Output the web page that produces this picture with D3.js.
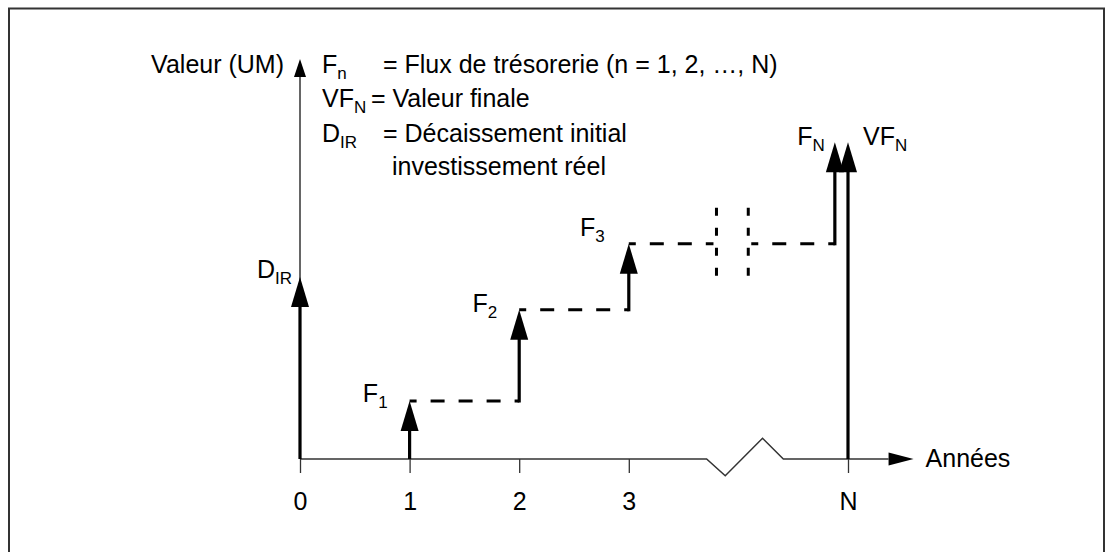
<!DOCTYPE html>
<html>
<head>
<meta charset="utf-8">
<script src="https://cdn.jsdelivr.net/npm/d3@7"></script>
<style>
  body { margin: 0; background: #fff; }
  text { font-family: 'Liberation Sans', Arial, sans-serif; fill: #000; }
</style>
</head>
<body>
<svg width="1105" height="552"></svg>
<script>
// years on the time axis (N sits after the break)
const yearLabels = ['0', '1', '2', '3', 'N'];
const yearPos = [0, 1, 2, 3, 5];

// cash flows: where each arrow sits, where it starts and where it ends (value units)
const flowBase = ['D', 'F', 'F', 'F', 'F', 'VF'];
const flowSub = ['IR', '1', '2', '3', 'N', 'N'];
const flowX = [0, 1, 2, 3, 4.88, 5];
const flowFrom = [0, 0, 1.45, 3.73, 5.38, 0];
const flowTo = [4.55, 1.45, 3.73, 5.38, 7.92, 7.92];

// legend
const legendBase = ['F', 'VF', 'D'];
const legendSub = ['n', 'N', 'IR'];
const legendText = ['= Flux de trésorerie (n = 1, 2, …, N)', '= Valeur finale', '= Décaissement initial'];
const legendExtra = 'investissement réel';

const xTitle = 'Années';
const yTitle = 'Valeur (UM)';

const svg = d3.select('svg');
const x = d3.scaleLinear().domain([0, 5]).range([300, 848]);
const y = d3.scaleLinear().domain([0, 10]).range([459, 59]);

const FS = 25, SUB = 17;

// frame
svg.append('rect')
  .attr('x', 9).attr('y', 8.5)
  .attr('width', 1095).attr('height', 620)
  .attr('fill', 'none').attr('stroke', '#333').attr('stroke-width', 2);

const g = svg.append('g');

// text with a subscript
function subLabel(sel, base, sub) {
  sel.append('tspan').text(base);
  sel.append('tspan').attr('dy', 6).attr('font-size', SUB).text(sub);
}

// x axis ticks and labels
const axis = d3.axisBottom(x)
  .tickValues(yearPos)
  .tickFormat((d, i) => yearLabels[i])
  .tickSize(14)
  .tickSizeOuter(0);

const ax = g.append('g')
  .attr('transform', `translate(0,${y(0)})`)
  .call(axis);
ax.select('.domain').remove();
ax.selectAll('.tick line').attr('stroke', '#333').attr('stroke-width', 1.3);
ax.selectAll('.tick text')
  .attr('font-family', null)
  .attr('font-size', FS)
  .attr('dy', null)
  .attr('y', 51)
  .attr('fill', '#000');

// x axis line with break
const breakPts = [[0, 0], [3.71, 0], [3.88, -0.42], [4.22, 0.52], [4.41, 0], [5.37, 0]];
g.append('path')
  .attr('d', d3.line().x(d => x(d[0])).y(d => y(d[1]))(breakPts))
  .attr('fill', 'none').attr('stroke', '#333').attr('stroke-width', 1.5);
const xEnd = x(5.37);
g.append('path')
  .attr('d', `M${xEnd},${y(0) - 6.5}L${xEnd + 25},${y(0)}L${xEnd},${y(0) + 6.5}Z`)
  .attr('fill', '#000');
g.append('text')
  .attr('x', xEnd + 37).attr('y', y(0) + 8)
  .attr('font-size', FS)
  .text(xTitle);

// y axis
g.append('line')
  .attr('x1', x(0)).attr('x2', x(0))
  .attr('y1', y(0)).attr('y2', y(10) + 16)
  .attr('stroke', '#333').attr('stroke-width', 1.5);
g.append('path')
  .attr('d', `M${x(0)},${y(10)}L${x(0) - 6},${y(10) + 18}L${x(0) + 6},${y(10) + 18}Z`)
  .attr('fill', '#000');
g.append('text')
  .attr('x', 284).attr('y', 73)
  .attr('text-anchor', 'end')
  .attr('font-size', FS)
  .text(yTitle);

// legend
const legendY = [73, 107, 142];
const legendEqX = [383, 371, 383];
legendBase.forEach((b, i) => {
  const t = g.append('text').attr('x', 322).attr('y', legendY[i]).attr('font-size', FS);
  subLabel(t, b, legendSub[i]);
  g.append('text')
    .attr('x', legendEqX[i]).attr('y', legendY[i])
    .attr('font-size', FS)
    .text(legendText[i]);
});
g.append('text')
  .attr('x', 392).attr('y', 175)
  .attr('font-size', FS)
  .text(legendExtra);

// dashed steps between flows
const dash = { stroke: '#000', 'stroke-width': 3, 'stroke-dasharray': '14,14', 'stroke-dashoffset': 7 };
const breakA = x(3.8), breakB = x(4.09);
function dashed(x1, x2, yy) {
  const l = g.append('line').attr('x1', x1).attr('x2', x2).attr('y1', yy).attr('y2', yy);
  Object.entries(dash).forEach(([k, v]) => l.attr(k, v));
}
for (let i = 1; i <= 3; i++) {
  const yy = y(flowTo[i]);
  if (i < 3) {
    dashed(x(flowX[i]), x(flowX[i + 1]), yy);
  } else {
    dashed(x(flowX[i]), breakA - 3, yy);
    dashed(breakB + 3, x(flowX[4]), yy);
  }
}
// break marks
[breakA, breakB].forEach(bx => {
  g.append('line')
    .attr('x1', bx).attr('x2', bx)
    .attr('y1', y(flowTo[3]) - 36).attr('y2', y(flowTo[3]) + 36)
    .attr('stroke', '#000').attr('stroke-width', 3)
    .attr('stroke-dasharray', '8,12');
});

// flow arrows
flowX.forEach((fx, i) => {
  const px = x(fx), y0 = y(flowFrom[i]), y1 = y(flowTo[i]);
  g.append('line')
    .attr('x1', px).attr('x2', px)
    .attr('y1', y0 + (flowFrom[i] > 0 ? 1.5 : 0)).attr('y2', y1 + 26)
    .attr('stroke', '#000').attr('stroke-width', 3.2);
  g.append('path')
    .attr('d', `M${px},${y1}L${px - 9},${y1 + 30}L${px + 9},${y1 + 30}Z`)
    .attr('fill', '#000');
});

// flow labels
const labelDx = [-8, -22, -22, -24, -10, 15];
const labelDy = [1, 1, 2, -8, 3, 3];
flowBase.forEach((b, i) => {
  const t = g.append('text')
    .attr('x', x(flowX[i]) + labelDx[i])
    .attr('y', y(flowTo[i]) + labelDy[i])
    .attr('font-size', FS)
    .attr('text-anchor', labelDx[i] < 0 ? 'end' : 'start');
  subLabel(t, b, flowSub[i]);
});
</script>
</body>
</html>
